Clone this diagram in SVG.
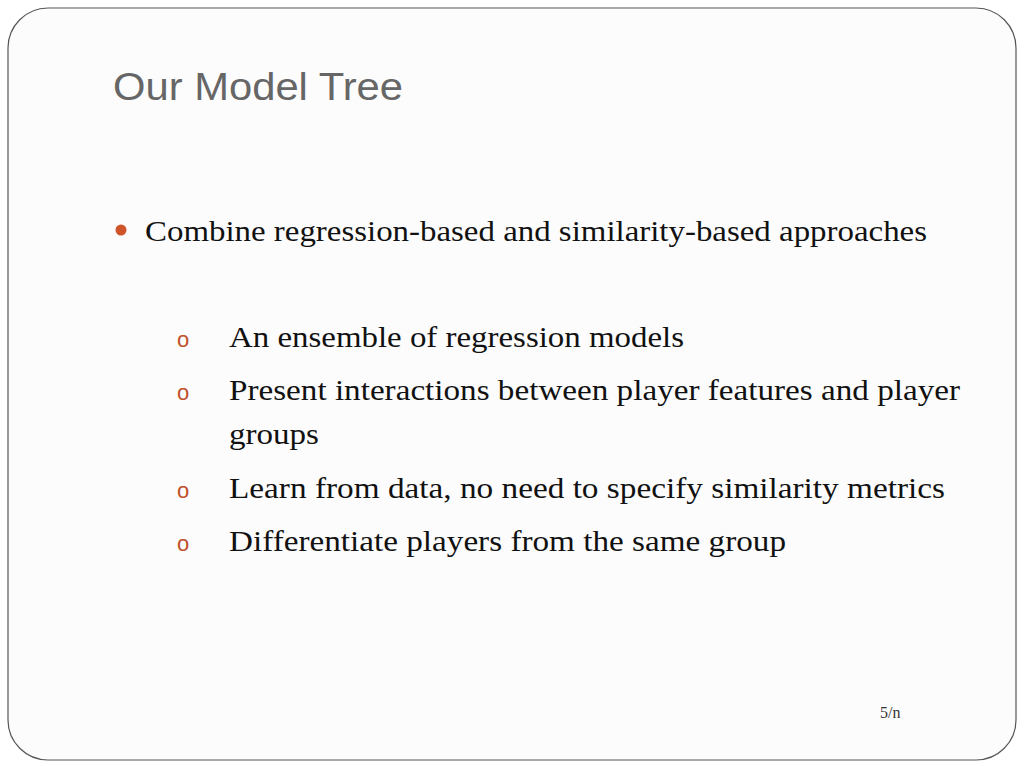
<svg xmlns="http://www.w3.org/2000/svg" width="1024" height="768" viewBox="0 0 1024 768">
<style>
.t{font-family:"Liberation Serif",serif;font-size:29px;fill:#111}
.o{font-family:"Liberation Sans",sans-serif;font-size:22px;fill:#c0502a}
</style>
<rect width="1024" height="768" fill="#ffffff"/>
<rect x="8" y="8" width="1008" height="752" rx="40" fill="#fcfcfc" stroke="#555" stroke-width="1.2"/>
<text x="113" y="100" font-family="Liberation Sans,sans-serif" font-size="38" fill="#666" textLength="290" lengthAdjust="spacingAndGlyphs">Our Model Tree</text>
<circle cx="121" cy="230" r="5.5" fill="#d0542a"/>
<text class="t" x="145" y="241" textLength="782" lengthAdjust="spacingAndGlyphs">Combine regression-based and similarity-based approaches</text>
<text class="o" x="177" y="347">o</text>
<text class="t" x="229" y="347" textLength="455" lengthAdjust="spacingAndGlyphs">An ensemble of regression models</text>
<text class="o" x="177" y="400">o</text>
<text class="t" x="229" y="400" textLength="731" lengthAdjust="spacingAndGlyphs">Present interactions between player features and player</text>
<text class="t" x="229" y="444" textLength="90" lengthAdjust="spacingAndGlyphs">groups</text>
<text class="o" x="177" y="498">o</text>
<text class="t" x="229" y="498" textLength="716" lengthAdjust="spacingAndGlyphs">Learn from data, no need to specify similarity metrics</text>
<text class="o" x="177" y="551">o</text>
<text class="t" x="229" y="551" textLength="557" lengthAdjust="spacingAndGlyphs">Differentiate players from the same group</text>
<text x="880" y="718" font-family="Liberation Serif,serif" font-size="16" fill="#333">5/n</text>
</svg>
